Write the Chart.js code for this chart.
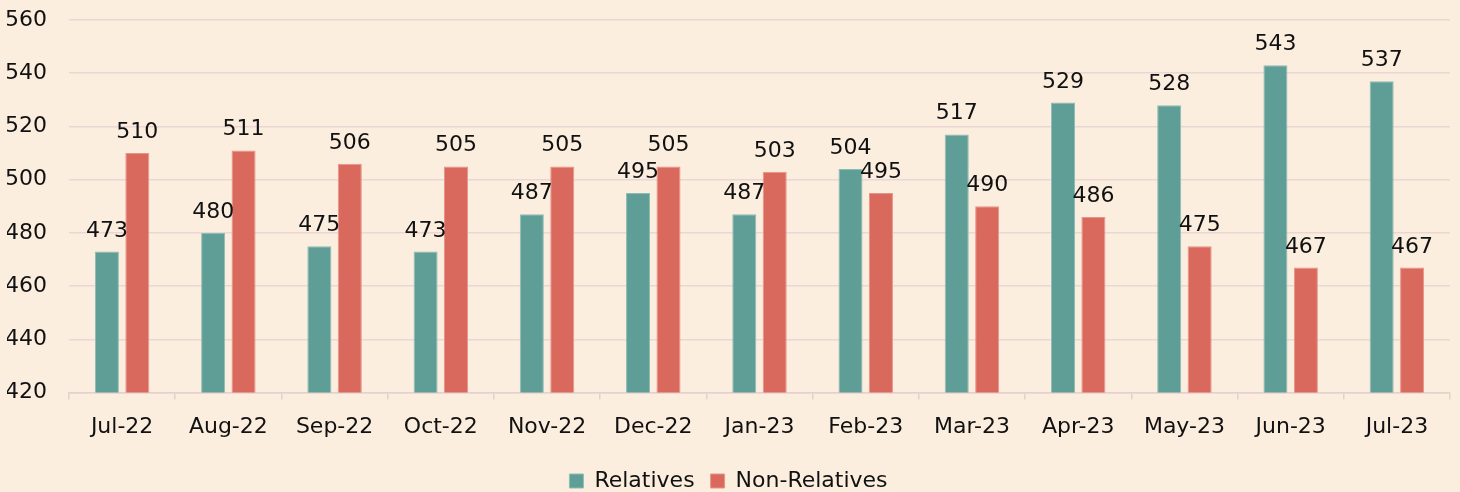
<!DOCTYPE html>
<html>
<head>
<meta charset="utf-8">
<script src="https://cdn.jsdelivr.net/npm/chart.js@4.4.1/dist/chart.umd.min.js"></script>
<style>
  html, body { margin: 0; padding: 0; background: #FCEEDF; }
  #wrap { width: 1460px; height: 492px; }
</style>
</head>
<body>
<div id="wrap"><canvas id="barChart" width="1460" height="492"></canvas></div>
<script>
const months = ["Jul-22", "Aug-22", "Sep-22", "Oct-22", "Nov-22", "Dec-22", "Jan-23",
  "Feb-23", "Mar-23", "Apr-23", "May-23", "Jun-23", "Jul-23"];
const relatives = [473, 480, 475, 473, 487, 495, 487, 504, 517, 529, 528, 543, 537];
const nonRelatives = [510, 511, 506, 505, 505, 505, 503, 495, 490, 486, 475, 467, 467];

const FONT = "'DejaVu Sans', Verdana, sans-serif";
const FS = 22;

// draws the value above each bar
const valueLabels = {
  id: "valueLabels",
  afterDatasetsDraw(chart) {
    const ctx = chart.ctx;
    ctx.save();
    ctx.font = FS + "px " + FONT;
    ctx.fillStyle = "#111";
    ctx.textAlign = "center";
    ctx.textBaseline = "alphabetic";
    chart.data.datasets.forEach((ds, i) => {
      const meta = chart.getDatasetMeta(i);
      meta.data.forEach((bar, j) => {
        ctx.fillText(ds.data[j], bar.x, bar.y - 15);
      });
    });
    ctx.restore();
  }
};

const ctx = document.getElementById("barChart").getContext("2d");
new Chart(ctx, {
  type: "bar",
  data: {
    labels: months,
    datasets: [
      {
        label: "Relatives",
        data: relatives,
        backgroundColor: "#5F9E97",
        borderColor: "#8CBDB5",
        borderWidth: 1,
        categoryPercentage: 0.573,
        barPercentage: 0.79
      },
      {
        label: "Non-Relatives",
        data: nonRelatives,
        backgroundColor: "#D9695C",
        borderColor: "#E8938A",
        borderWidth: 1,
        categoryPercentage: 0.573,
        barPercentage: 0.79
      }
    ]
  },
  options: {
    responsive: false,
    animation: false,
    layout: { padding: { left: 7, right: 10, top: 20, bottom: -10 } },
    plugins: {
      tooltip: { enabled: false },
      legend: {
        position: "bottom",
        labels: {
          font: { family: FONT, size: FS },
          color: "#111",
          boxWidth: 14,
          boxHeight: 14,
          padding: 16
        }
      }
    },
    scales: {
      x: {
        offset: true,
        grid: {
          offset: true,
          drawOnChartArea: false,
          color: "#E6CFCF",
          lineWidth: 1.5,
          tickLength: 7
        },
        border: { color: "#E6CFCF", width: 1.5 },
        ticks: {
          font: { family: FONT, size: FS },
          color: "#111",
          padding: 14,
          maxRotation: 0
        }
      },
      y: {
        min: 420,
        max: 560,
        afterFit(scale) {
          scale.width = 62;
          scale.paddingTop = 12;
          scale.paddingBottom = 12;
        },
        grid: { color: "#EBD6D6", lineWidth: 1.5, drawTicks: false },
        border: { display: false },
        ticks: {
          stepSize: 20,
          font: { family: FONT, size: FS },
          color: "#111",
          padding: 22
        }
      }
    }
  },
  plugins: [valueLabels]
});
</script>
</body>
</html>
